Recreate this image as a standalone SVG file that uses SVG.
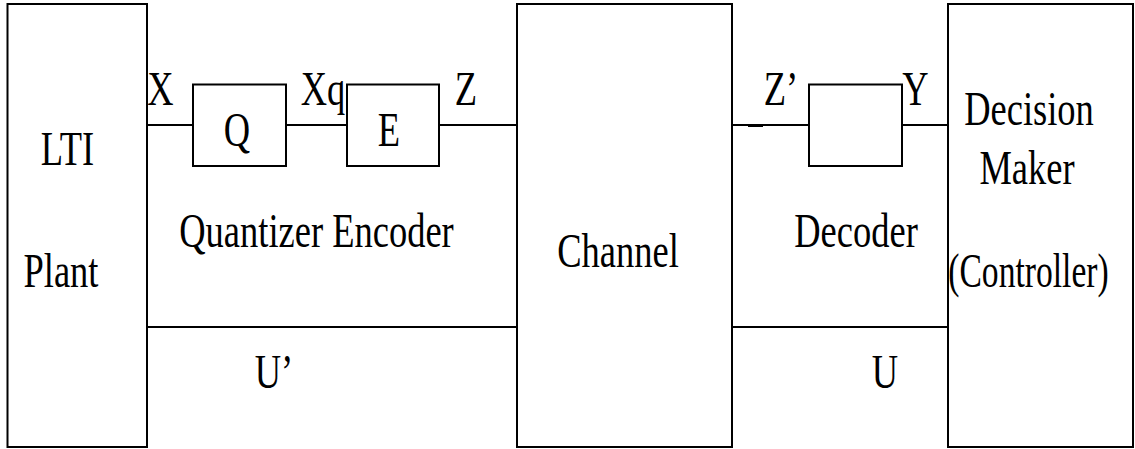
<svg xmlns="http://www.w3.org/2000/svg" width="1135" height="449" viewBox="0 0 1135 449">
  <style>
    .box { fill: #ffffff; stroke: #000000; stroke-width: 2; }
    .wire { stroke: #000000; stroke-width: 2; fill: none; }
    text { font-family: 'Liberation Serif', 'Times New Roman', 'DejaVu Serif', serif; font-size: 48px; fill: #000000; text-anchor: middle; }
  </style>
  <rect width="1135" height="449" fill="#ffffff"/>

  <!-- signal wires -->
  <g id="connectors">
    <line class="wire" x1="147" y1="125" x2="193" y2="125"/>
    <line class="wire" x1="286" y1="125" x2="347" y2="125"/>
    <line class="wire" x1="439" y1="125" x2="517" y2="125"/>
    <line class="wire" x1="732" y1="125" x2="809" y2="125"/>
    <line class="wire" x1="902" y1="125" x2="948" y2="125"/>
    <line x1="748" y1="125.5" x2="763" y2="125.5" stroke="#000" stroke-width="3"/>
    <line class="wire" x1="147" y1="327" x2="517" y2="327"/>
    <line class="wire" x1="732" y1="327" x2="948" y2="327"/>
  </g>

  <!-- labels are set in a condensed serif: each is squeezed horizontally -->
  <g id="plant">
    <rect class="box" x="7.5" y="4" width="139.5" height="443"/>
    <text transform="translate(67.5 165) scale(0.76 1)">LTI</text>
    <text transform="translate(61 287) scale(0.76 1)">Plant</text>
  </g>

  <g id="quantizer">
    <rect class="box" x="193" y="84.5" width="93" height="81.5"/>
    <text transform="translate(237 146) scale(0.76 1)">Q</text>
  </g>

  <g id="encoder">
    <rect class="box" x="347" y="84.5" width="92" height="81.5"/>
    <text transform="translate(389 146) scale(0.76 1)">E</text>
  </g>

  <g id="channel">
    <rect class="box" x="517" y="4" width="215" height="443"/>
    <text transform="translate(618 267) scale(0.76 1)">Channel</text>
  </g>

  <g id="decoder">
    <rect class="box" x="809" y="84.5" width="93" height="81.5"/>
  </g>

  <g id="decision-maker">
    <rect class="box" x="948" y="4" width="185" height="443"/>
    <text transform="translate(1029 125) scale(0.76 1)">Decision</text>
    <text transform="translate(1027 184) scale(0.76 1)">Maker</text>
    <text transform="translate(1028.5 287) scale(0.7 1)">(Controller)</text>
  </g>

  <!-- signal and section labels -->
  <g id="labels">
    <text transform="translate(160.5 105) scale(0.76 1)">X</text>
    <text transform="translate(323 105) scale(0.76 1)">Xq</text>
    <text transform="translate(466 105) scale(0.76 1)">Z</text>
    <text transform="translate(781 105) scale(0.76 1)">Z’</text>
    <text transform="translate(915.5 105) scale(0.76 1)">Y</text>
    <text transform="translate(316.5 247) scale(0.76 1)">Quantizer Encoder</text>
    <text transform="translate(856 247) scale(0.76 1)">Decoder</text>
    <text transform="translate(274 388) scale(0.76 1)">U’</text>
    <text transform="translate(885 388) scale(0.76 1)">U</text>
  </g>
</svg>
